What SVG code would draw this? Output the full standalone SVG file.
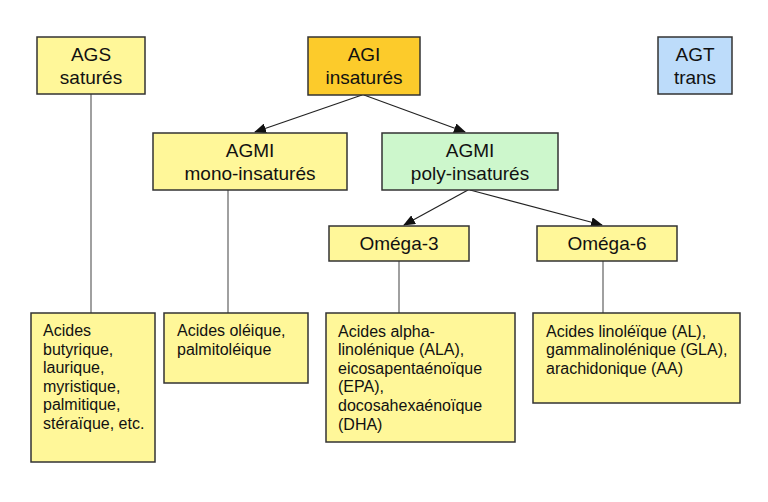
<svg xmlns="http://www.w3.org/2000/svg" width="768" height="502" viewBox="0 0 768 502">
<defs>
<style>
.box{stroke:#333;stroke-width:1.5}
.y{fill:#FFF799}
.t{font-family:"Liberation Sans",Arial,sans-serif;font-size:19px;fill:#111;text-anchor:middle}
.s{font-family:"Liberation Sans",Arial,sans-serif;font-size:16px;fill:#111}
.vl{stroke:#808080;stroke-width:1.5;fill:none}
.ar{stroke:#222;stroke-width:1.2;fill:none;marker-end:url(#ah)}
</style>
<marker id="ah" markerWidth="12" markerHeight="10" refX="11" refY="5" orient="auto" markerUnits="userSpaceOnUse">
<path d="M0,0 L12,5 L0,10 Z" fill="#111"/>
</marker>
</defs>
<rect width="768" height="502" fill="#fff"/>
<g id="connectors">
<line class="vl" x1="91" y1="94" x2="91" y2="313"/>
<line class="vl" x1="228" y1="190" x2="228" y2="313"/>
<line class="vl" x1="399" y1="261" x2="399" y2="313"/>
<line class="vl" x1="603" y1="261" x2="603" y2="313"/>
<line class="ar" x1="362" y1="95" x2="255" y2="132"/>
<line class="ar" x1="364" y1="95" x2="465" y2="132"/>
<line class="ar" x1="468" y1="190" x2="404" y2="225"/>
<line class="ar" x1="470" y1="190" x2="602" y2="225"/>
</g>
<g id="ags">
<rect class="box y" x="37" y="37" width="108" height="57"/>
<text class="t" x="91" y="61">AGS</text>
<text class="t" x="91" y="84">saturés</text>
</g>
<g id="agi">
<rect class="box" fill="#FCCB2B" x="308" y="37" width="112" height="58"/>
<text class="t" x="364" y="61">AGI</text>
<text class="t" x="364" y="84">insaturés</text>
</g>
<g id="agt">
<rect class="box" fill="#BDDCFA" x="658" y="37" width="74" height="57"/>
<text class="t" x="695" y="61">AGT</text>
<text class="t" x="695" y="84">trans</text>
</g>
<g id="agmi-mono">
<rect class="box y" x="153" y="133" width="194" height="57"/>
<text class="t" x="250" y="157">AGMI</text>
<text class="t" x="250" y="180">mono-insaturés</text>
</g>
<g id="agmi-poly">
<rect class="box" fill="#CDF7CC" x="382" y="133" width="176" height="57"/>
<text class="t" x="470" y="157">AGMI</text>
<text class="t" x="470" y="180">poly-insaturés</text>
</g>
<g id="omega3">
<rect class="box y" x="329" y="226" width="140" height="35"/>
<text class="t" x="399" y="250">Oméga-3</text>
</g>
<g id="omega6">
<rect class="box y" x="537" y="226" width="140" height="35"/>
<text class="t" x="607" y="250">Oméga-6</text>
</g>
<g id="sat-list">
<rect class="box y" x="31" y="313" width="124" height="149"/>
<text class="s" x="43" y="336">Acides</text>
<text class="s" x="43" y="354.5">butyrique,</text>
<text class="s" x="43" y="373">laurique,</text>
<text class="s" x="43" y="391.5">myristique,</text>
<text class="s" x="43" y="410">palmitique,</text>
<text class="s" x="43" y="428.5">stéraïque, etc.</text>
</g>
<g id="mono-list">
<rect class="box y" x="164" y="313" width="144" height="70"/>
<text class="s" x="177" y="336">Acides oléique,</text>
<text class="s" x="177" y="354.5">palmitoléique</text>
</g>
<g id="omega3-list">
<rect class="box y" x="326" y="313" width="189" height="129"/>
<text class="s" x="338" y="336.5">Acides alpha-</text>
<text class="s" x="338" y="355.1">linolénique (ALA),</text>
<text class="s" x="338" y="373.7">eicosapentaénoïque</text>
<text class="s" x="338" y="392.3">(EPA),</text>
<text class="s" x="338" y="410.9">docosahexaénoïque</text>
<text class="s" x="338" y="429.5">(DHA)</text>
</g>
<g id="omega6-list">
<rect class="box y" x="533" y="313" width="207" height="90"/>
<text class="s" x="546" y="336.5">Acides linoléïque (AL),</text>
<text class="s" x="546" y="355.1">gammalinolénique (GLA),</text>
<text class="s" x="546" y="373.7">arachidonique (AA)</text>
</g>
</svg>
